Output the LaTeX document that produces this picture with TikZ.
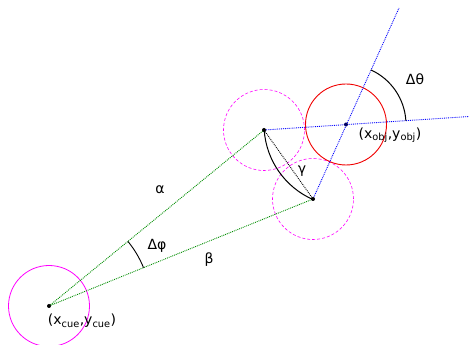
\documentclass[tikz,border=0pt]{standalone}
\usepackage{fontspec}
\setmainfont{DejaVu Sans}
\usetikzlibrary{calc}
\definecolor{ballmag}{RGB}{255,0,255}
\definecolor{ballred}{RGB}{240,0,0}
\definecolor{pathgreen}{RGB}{0,140,0}
\tikzset{
    ball/.style={circle, draw, minimum size=81pt, inner sep=0pt},
    ghost/.style={ball, ballmag, dash pattern=on 3pt off 2pt, line width=0.6pt},
    dotline/.style={densely dotted, line width=0.9pt},
    dot/.style={circle, fill=black, inner sep=0pt, minimum size=4pt},
    lbl/.style={font=\fontsize{14}{16}\selectfont, inner sep=1pt}
}
\begin{document}
\begin{tikzpicture}[x=1pt, y=1pt]
    \useasboundingbox (0, 0) rectangle (469, 345);

    % Tâm các bi
    \coordinate (cue) at (49, 39);
    \coordinate (ghostA) at (264, 215);
    \coordinate (ghostB) at (313, 146);
    \coordinate (obj) at (346, 220.5);
    \coordinate (endA) at (469, 228.5);
    \coordinate (endB) at (399, 337);

    % 1. Các bi
    \node[ball, ballmag, line width=0.8pt] (cueball) at (cue) {};
    \node[ghost] (ghostAball) at (ghostA) {};
    \node[ghost] (ghostBball) at (ghostB) {};
    \node[ball, ballred, line width=0.9pt] (objball) at (obj) {};

    % 2. Các đường chấm
    \draw[dotline, pathgreen] (cue) -- (ghostA);
    \draw[dotline, pathgreen] (cue) -- (ghostB);
    \draw[dotline, blue] (ghostA) -- (endA);
    \draw[dotline, blue] (ghostB) -- (endB);
    \draw[dotline, black] (ghostA) -- (ghostB);

    % 3. Các cung góc
    \draw[line width=1pt] ($(obj)+(183.8:82)$) arc (183.8:246.1:82);
    \draw[line width=1pt] ($(obj)+(3.6:60)$) arc (3.6:65.5:60);
    \draw[line width=0.9pt] ($(cue)+(22.1:102)$) arc (22.1:39.3:102);

    % Tâm
    \node[dot] (cuedot) at (cue) {};
    \node[dot] (ghostAdot) at (ghostA) {};
    \node[dot] (ghostBdot) at (ghostB) {};
    \node[dot, fill=blue!40!black] (objdot) at (obj) {};

    % 4. Nhãn
    \node[lbl] (alpha) at (160, 155) {α};
    \node[lbl] (beta) at (209, 85) {β};
    \node[lbl] (gamma) at (302, 174) {γ};
    \node[lbl] (dphi) at (157, 99) {Δφ};
    \node[lbl] (dtheta) at (415, 266) {Δθ};
    \node[lbl] (objlbl) at (390, 210) {(x\textsubscript{obj},y\textsubscript{obj})};
    \node[lbl] (cuelbl) at (82, 24) {(x\textsubscript{cue},y\textsubscript{cue})};
\end{tikzpicture}
\end{document}
